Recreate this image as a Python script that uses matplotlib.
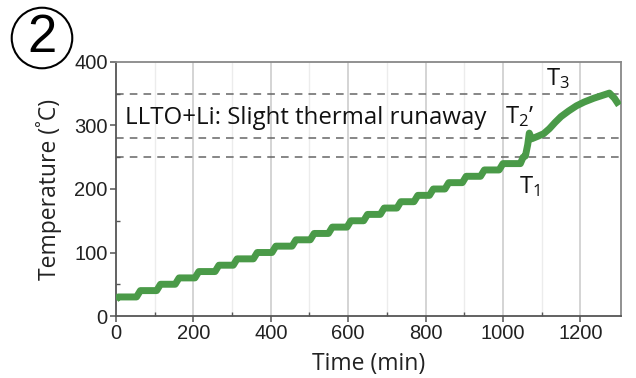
import numpy as np
import matplotlib
matplotlib.use("Agg")
import matplotlib.pyplot as plt

# --- data -----------------------------------------------------------
# staircase heating: time at which each 10 degC step starts (min)
step_times = [53, 105, 153, 204, 256, 303, 355, 403, 455, 502, 549, 597,
              640, 683, 726, 770, 810, 850, 895, 942, 990]
base_temp = 30
step_size = 10
start_temp = 26
# runaway part after the last plateau
tail_time = [1045, 1052, 1058, 1064, 1068, 1074, 1090, 1105, 1120, 1135,
             1150, 1170, 1190, 1210, 1235, 1260, 1275, 1288, 1300]
tail_temp = [240, 250, 252, 270, 288, 279, 283, 287, 295, 305,
             314, 323, 331, 337, 343, 348, 351, 343, 332]
t_lines = [350, 280, 250]

x_ticks = [0, 200, 400, 600, 800, 1000, 1200]
y_ticks = [0, 100, 200, 300, 400]

# --- build staircase path ------------------------------------------
ramp = 10
tx = [0, 6]
ty = [start_temp, base_temp]
level = base_temp
for st in step_times:
    tx += [st, st + ramp]
    ty += [level, level + step_size]
    level += step_size
tx += tail_time
ty += tail_temp

plt.rcParams['mathtext.fontset'] = 'custom'
plt.rcParams['mathtext.rm'] = 'Open Sans'
plt.rcParams['mathtext.it'] = 'Open Sans'

fig = plt.figure(figsize=(6.36, 3.78), dpi=100)
ax = fig.add_axes([0.1824, 0.164, 0.7940, 0.672])

ax.set_xlim(0, 1305)
ax.set_ylim(0, 400)

# gridlines
for xv in range(200, 1300, 200):
    ax.axvline(xv, color='#d4d4d4', lw=1.4, zorder=0)
for xv in range(100, 1300, 200):
    ax.axvline(xv, color='#ececec', lw=1.0, zorder=0)

for yv in t_lines:
    ax.axhline(yv, color='#666666', lw=1.1, ls=(0, (5, 4)), zorder=1)

ax.plot(tx, ty, color='#4a9a48', lw=5.0, solid_joinstyle='round',
        solid_capstyle='butt', zorder=3)

for s in ax.spines.values():
    s.set_color('#555555')
    s.set_linewidth(1.3)
ax.spines['top'].set_color('#888888')
ax.spines['right'].set_color('#888888')

ax.set_xticks(x_ticks)
ax.set_yticks(y_ticks)
ax.set_xticks(range(100, 1300, 200), minor=True)
ax.set_yticks(range(50, 400, 100), minor=True)
ax.tick_params(axis='both', which='major', direction='out', length=4,
               width=1.1, color='#555555', labelsize=14.5, pad=2)
ax.tick_params(axis='both', which='minor', direction='in', length=3,
               width=1.0, color='#555555')
for lab in ax.get_xticklabels() + ax.get_yticklabels():
    lab.set_fontfamily('Liberation Sans')
    lab.set_color('#222222')

ax.set_xlabel('Time (min)', fontfamily='Open Sans', fontsize=16.5,
              color='#222222', labelpad=6)
ax.set_ylabel('Temperature (˚C)', fontfamily='Open Sans', fontsize=16.5,
              color='#222222', labelpad=9)

ax.text(22, 312, 'LLTO+Li: Slight thermal runaway', fontfamily='Open Sans',
        fontsize=17.3, color='#111111', va='center', ha='left')
ax.text(1112, 374, r'T$_{3}$', fontfamily='Open Sans', fontsize=17,
        color='#111111', va='center', ha='left')
ax.text(1004, 314, r"T$_{2}$’", fontfamily='Open Sans', fontsize=17,
        color='#111111', va='center', ha='left')
ax.text(1042, 204, r'T$_{1}$', fontfamily='Open Sans', fontsize=17,
        color='#111111', va='center', ha='left')

fig.text(42 / 636, 1 - 38 / 378, '2', fontfamily='Liberation Sans',
         fontsize=38, ha='center', va='center', color='black',
         bbox=dict(boxstyle='circle,pad=0.1', fc='none', ec='black', lw=1.5))

fig.savefig('out.png', dpi=100)
